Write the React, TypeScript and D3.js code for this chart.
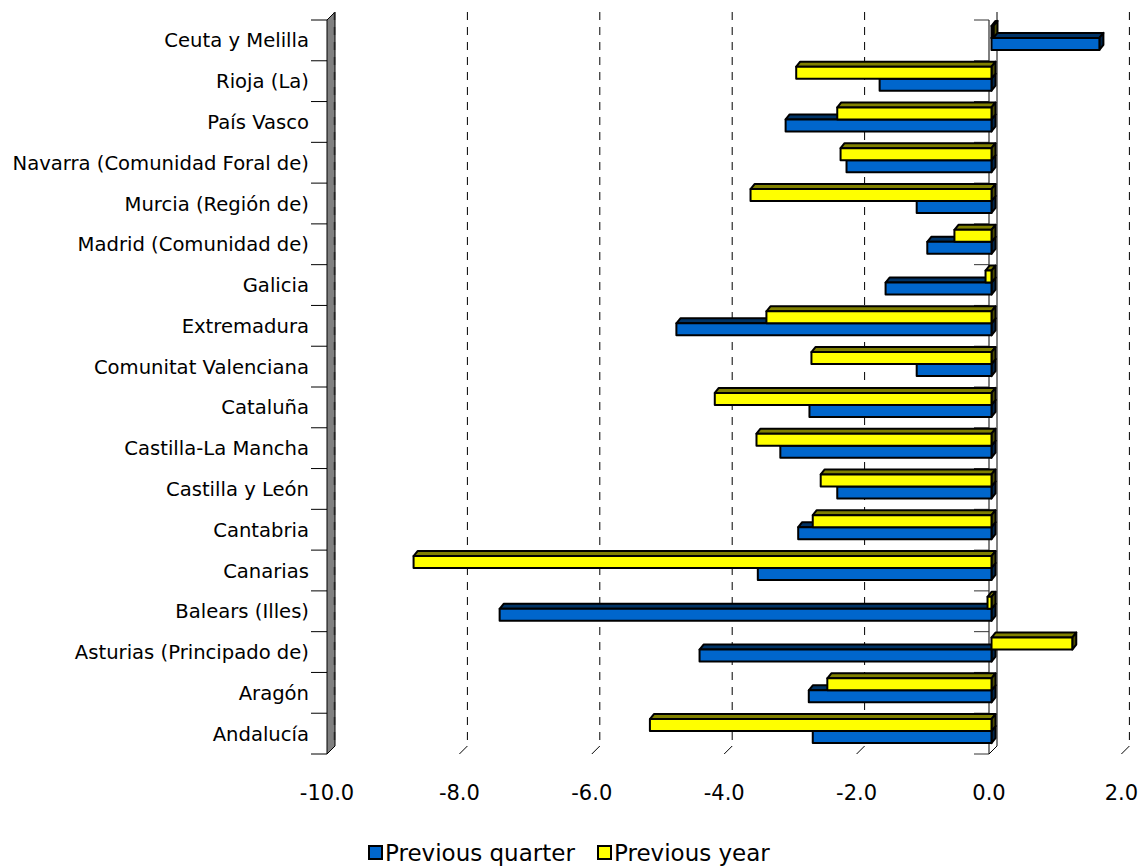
import React from "react";
import * as d3 from "d3";

const categories = [
  "Andalucía",
  "Aragón",
  "Asturias (Principado de)",
  "Balears (Illes)",
  "Canarias",
  "Cantabria",
  "Castilla y León",
  "Castilla-La Mancha",
  "Cataluña",
  "Comunitat Valenciana",
  "Extremadura",
  "Galicia",
  "Madrid (Comunidad de)",
  "Murcia (Región de)",
  "Navarra (Comunidad Foral de)",
  "País Vasco",
  "Rioja (La)",
  "Ceuta y Melilla",
];

const previousQuarter = [
  -2.7, -2.76, -4.41, -7.43, -3.53, -2.92, -2.33, -3.19, -2.75, -1.13, -4.76,
  -1.6, -0.97, -1.13, -2.19, -3.11, -1.69, 1.63,
];

const previousYear = [
  -5.16, -2.48, 1.22, -0.06, -8.73, -2.7, -2.58, -3.55, -4.18, -2.72, -3.4,
  -0.09, -0.56, -3.64, -2.28, -2.33, -2.95, 0.03,
];

const seriesNames = ["Previous quarter", "Previous year"];
const xTicks = [-10, -8, -6, -4, -2, 0, 2];
const gridTicks = [-8, -6, -4, -2, 2];

const W = 1140;
const H = 866;
const FONT = "'DejaVu Sans', sans-serif";

export default function App() {
  const left = 327;
  const top = 20;
  const bottom = 754;
  const DX = 8;
  const DY = -8;
  const x = d3.scaleLinear().domain([-10, 2]).range([left, left + 12 * 66.2]);
  const y = d3.scaleBand<string>().domain(categories).range([bottom, top]);
  const bw = y.bandwidth();
  const sub = d3
    .scaleBand<string>()
    .domain(["Previous year", "Previous quarter"])
    .range([0, bw])
    .paddingInner(0)
    .paddingOuter(0.7);
  const bh = sub.bandwidth();

  const BX0 = 2.5;
  const BY0 = -2.5;
  const BDX = 4;
  const BDY = -5;
  const SW = 2;

  const colors: Record<string, { front: string; top: string; side: string }> = {
    "Previous quarter": { front: "#0066CC", top: "#003366", side: "#00264d" },
    "Previous year": { front: "#FFFF00", top: "#808000", side: "#4d4d00" },
  };

  const boundaries = d3.range(categories.length + 1).map((i) => bottom - i * bw);

  const bar = (v: number, cat: string, s: string, key: string) => {
    const c = colors[s];
    const x0 = Math.min(x(0), x(v)) + BX0;
    const x1 = Math.max(x(0), x(v)) + BX0;
    const y0 = (y(cat) as number) + (sub(s) as number) + BY0;
    const y1 = y0 + bh;
    const topPts = [
      [x0, y0],
      [x0 + BDX, y0 + BDY],
      [x1 + BDX, y0 + BDY],
      [x1, y0],
    ];
    const sidePts = [
      [x1, y0],
      [x1 + BDX, y0 + BDY],
      [x1 + BDX, y1 + BDY],
      [x1, y1],
    ];
    return (
      <g key={key}>
        <polygon
          points={topPts.map((p) => p.join(",")).join(" ")}
          fill={c.top}
          stroke="#000"
          strokeWidth={SW}
          strokeLinejoin="round"
        />
        <polygon
          points={sidePts.map((p) => p.join(",")).join(" ")}
          fill={c.side}
          stroke="#000"
          strokeWidth={SW}
          strokeLinejoin="round"
        />
        <rect
          x={x0}
          y={y0}
          width={x1 - x0}
          height={bh}
          fill={c.front}
          stroke="#000"
          strokeWidth={SW}
          strokeLinejoin="round"
        />
      </g>
    );
  };

  const legendItems = [
    { name: seriesNames[0], x: 368 },
    { name: seriesNames[1], x: 597 },
  ];

  return (
    <svg
      width={W}
      height={H}
      style={{ position: "absolute", left: 0, top: 0, background: "#fff" }}
      fontFamily={FONT}
    >
      <rect x={0} y={0} width={W} height={H} fill="#fff" />

      {/* back gridlines */}
      {gridTicks.map((t) => (
        <g key={"g" + t}>
          <line
            x1={x(t) + DX}
            x2={x(t) + DX}
            y1={top + DY}
            y2={bottom + DY}
            stroke="#000"
            strokeWidth={1}
            strokeDasharray="8,7"
          />
          <line
            x1={x(t) + DX}
            x2={x(t)}
            y1={bottom + DY}
            y2={bottom}
            stroke="#000"
            strokeWidth={1}
          />
        </g>
      ))}

      {/* zero axis lines (back & front) */}
      <line x1={x(0) + DX} x2={x(0) + DX} y1={top + DY} y2={bottom + DY} stroke="#000" strokeWidth={1} />
      <line x1={x(0)} x2={x(0)} y1={top} y2={bottom} stroke="#000" strokeWidth={1} />
      <line x1={x(0)} x2={x(0) + DX} y1={bottom} y2={bottom + DY} stroke="#000" strokeWidth={1} />
      {boundaries.map((b, i) => (
        <line key={"zt" + i} x1={x(0) - 15} x2={x(0)} y1={b} y2={b} stroke="#333" strokeWidth={1} />
      ))}

      {/* left wall */}
      <polygon
        points={`${left},${top} ${left + DX},${top + DY} ${left + DX},${bottom + DY} ${left},${bottom}`}
        fill="#808080"
        stroke="#000"
        strokeWidth={1}
      />
      <line
        x1={left + DX - 0.5}
        x2={left + DX - 0.5}
        y1={top + DY}
        y2={bottom + DY}
        stroke="#222"
        strokeWidth={1.5}
        strokeDasharray="8,7"
      />

      {/* category ticks on the left */}
      {boundaries.map((b, i) => (
        <line key={"lt" + i} x1={311} x2={left} y1={b} y2={b} stroke="#000" strokeWidth={1} />
      ))}

      {/* bars */}
      {categories.map((cat, i) => (
        <g key={"c" + i}>
          {bar(previousQuarter[i], cat, "Previous quarter", "q" + i)}
          {bar(previousYear[i], cat, "Previous year", "y" + i)}
        </g>
      ))}

      {/* category labels */}
      {categories.map((cat) => (
        <text
          key={"l" + cat}
          x={309}
          y={(y(cat) as number) + bw / 2}
          dy="0.36em"
          textAnchor="end"
          fontSize={19.6}
          fill="#000"
        >
          {cat}
        </text>
      ))}

      {/* x tick labels */}
      {xTicks.map((t) => (
        <text key={"xt" + t} x={x(t)} y={800} textAnchor="middle" fontSize={21} fill="#000">
          {t.toFixed(1)}
        </text>
      ))}

      {/* legend */}
      {legendItems.map((it) => (
        <g key={"lg" + it.name}>
          <rect
            x={it.x + 1}
            y={846}
            width={13}
            height={13}
            fill={colors[it.name].front}
            stroke="#000"
            strokeWidth={2}
          />
          <text x={it.x + 17} y={861} fontSize={23} fill="#000">
            {it.name}
          </text>
        </g>
      ))}
    </svg>
  );
}
